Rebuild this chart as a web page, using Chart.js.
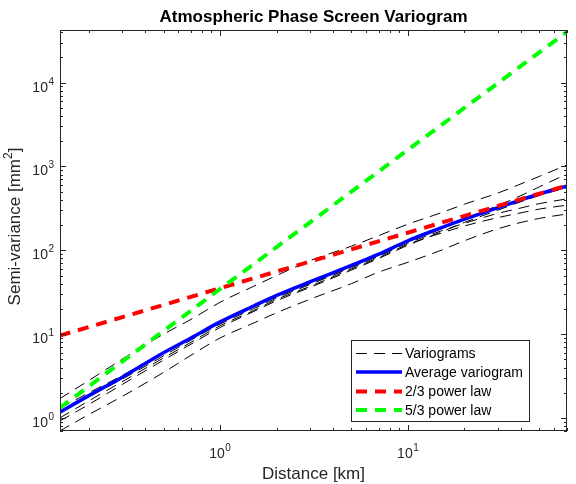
<!DOCTYPE html>
<html lang="en">
<head>
<meta charset="UTF-8">
<title>Atmospheric Phase Screen Variogram</title>
<script src="https://cdn.jsdelivr.net/npm/chart.js"></script>
<style>
  html, body { margin: 0; padding: 0; background: #fff; }
  #wrap { width: 576px; height: 484px; }
</style>
</head>
<body>
<div id="wrap"><canvas id="vario" width="576" height="484"></canvas></div>

<script>
  const distance = [0.14, 0.2, 0.3, 0.5, 0.7, 1, 1.5, 2, 3, 5, 7, 10, 15, 20, 30, 40, 50, 70];

  // individual variograms (mm^2)
  const vario1 = [1.7, 2.8, 5.0, 10, 15, 24, 37, 50, 75, 112, 150, 205, 280, 355, 480, 620, 760, 1040];
  const vario2 = [1.3, 2.0, 3.2, 6.0, 9.0, 13.8, 21, 28, 40, 64, 88, 128, 185, 240, 340, 450, 570, 810];
  const vario3 = [1.15, 1.8, 2.9, 5.5, 8.5, 13.2, 20, 27, 39, 62, 85, 122, 170, 210, 275, 320, 360, 410];
  const vario4 = [1.0, 1.6, 2.7, 5.2, 8.0, 12.6, 19, 26, 37, 60, 82, 118, 160, 195, 245, 280, 310, 345];
  const vario5 = [0.92, 1.45, 2.5, 4.9, 7.6, 12, 18.5, 25, 36, 58, 80, 115, 165, 215, 300, 380, 450, 560];
  const vario6 = [0.7, 1.1, 1.8, 3.5, 5.6, 9, 13.5, 18, 26, 40, 55, 72, 100, 130, 180, 215, 240, 271];

  const avgVariogram = [1.17, 1.85, 3.05, 6.0, 9.0, 14.0, 21.5, 29, 42, 66, 90, 130, 185, 235, 320, 400, 470, 580];

  const lawX = [0.14, 70];
  const law23 = [9.6, 590];
  const law53 = [1.32, 40000];

  const xMajor = [1, 10];
  const yMajor = [1, 10, 100, 1000, 10000];
  const legendLabels = ["Variograms", "Average variogram", "2/3 power law", "5/3 power law"];

  const pts = (xs, ys) => xs.map((v, i) => ({ x: v, y: ys[i] }));

  const axisCol = "#262626";
  const blackDash = [11, 7];
  const fatDash = [11, 8];

  const datasets = [];
  [vario1, vario2, vario3, vario4, vario5, vario6].forEach((v, i) => {
    datasets.push({
      label: i === 0 ? legendLabels[0] : "",
      data: pts(distance, v),
      borderColor: "#000", borderWidth: 1, borderDash: blackDash,
      cubicInterpolationMode: "monotone", order: 3
    });
  });
  datasets.push({ label: legendLabels[1], data: pts(distance, avgVariogram),
    borderColor: "#0000ff", borderWidth: 3.5, cubicInterpolationMode: "monotone", order: 2 });
  datasets.push({ label: legendLabels[2], data: pts(lawX, law23),
    borderColor: "#ff0000", borderWidth: 4, borderDash: fatDash, order: 1 });
  datasets.push({ label: legendLabels[3], data: pts(lawX, law53),
    borderColor: "#00ff00", borderWidth: 4, borderDash: fatDash, order: 0 });

  // "10" with a raised exponent; align: 'center' | 'right'
  function powerLabel(ctx, base, exp, x, y, align) {
    ctx.font = "14px 'Liberation Sans', Arial, sans-serif";
    const wb = ctx.measureText(base).width;
    ctx.font = "10px 'Liberation Sans', Arial, sans-serif";
    const we = ctx.measureText(exp).width;
    const w = wb + we + 0.5;
    let x0 = align === "right" ? x - w : x - w / 2;
    ctx.textAlign = "left";
    ctx.font = "14px 'Liberation Sans', Arial, sans-serif";
    ctx.fillText(base, x0, y);
    ctx.font = "10px 'Liberation Sans', Arial, sans-serif";
    ctx.fillText(exp, x0 + wb + 0.5, y - 7);
  }

  const matlabAxes = {
    id: "matlabAxes",
    afterDraw(chart) {
      const { ctx, chartArea: a, scales: { x, y } } = chart;
      ctx.save();
      ctx.strokeStyle = axisCol;
      ctx.fillStyle = axisCol;
      ctx.lineWidth = 1;

      // ticks on all four sides
      ctx.beginPath();
      for (let d = 0.1; d < 100; d *= 10) {
        for (let m = 1; m <= 9; m++) {
          const v = m * d;
          if (v < x.min || v > x.max) continue;
          const px = Math.round(x.getPixelForValue(v)) + 0.5;
          const len = m === 1 ? 6 : 3;
          ctx.moveTo(px, a.bottom); ctx.lineTo(px, a.bottom - len);
          ctx.moveTo(px, a.top); ctx.lineTo(px, a.top + len);
        }
      }
      for (let d = 0.1; d < 1e5; d *= 10) {
        for (let m = 1; m <= 9; m++) {
          const v = m * d;
          if (v < y.min || v > y.max) continue;
          const py = Math.round(y.getPixelForValue(v)) + 0.5;
          const len = m === 1 ? 6 : 3;
          ctx.moveTo(a.left, py); ctx.lineTo(a.left + len, py);
          ctx.moveTo(a.right, py); ctx.lineTo(a.right - len, py);
        }
      }
      ctx.stroke();

      // box
      ctx.strokeRect(Math.round(a.left) + 0.5, Math.round(a.top) + 0.5,
        Math.round(a.right - a.left) - 1, Math.round(a.bottom - a.top) - 1);

      // tick labels
      ctx.textBaseline = "alphabetic";
      xMajor.forEach(v => {
        powerLabel(ctx, "10", String(Math.round(Math.log10(v))), x.getPixelForValue(v), 458, "center");
      });
      yMajor.forEach(v => {
        powerLabel(ctx, "10", String(Math.round(Math.log10(v))), 54, y.getPixelForValue(v) + 9, "right");
      });

      // title
      ctx.fillStyle = "#000";
      ctx.textAlign = "center";
      ctx.font = "bold 17px 'Liberation Sans', Arial, sans-serif";
      ctx.fillText("Atmospheric Phase Screen Variogram", (a.left + a.right) / 2, 22);

      // axis labels
      ctx.fillStyle = axisCol;
      ctx.font = "17px 'Liberation Sans', Arial, sans-serif";
      ctx.fillText("Distance [km]", (a.left + a.right) / 2, 479);

      ctx.save();
      ctx.translate(20, (a.top + a.bottom) / 2 - 4);
      ctx.rotate(-Math.PI / 2);
      const t1 = "Semi-variance [mm", t2 = "2", t3 = "]";
      ctx.font = "17px 'Liberation Sans', Arial, sans-serif";
      const w1 = ctx.measureText(t1).width, w3 = ctx.measureText(t3).width;
      ctx.font = "12px 'Liberation Sans', Arial, sans-serif";
      const w2 = ctx.measureText(t2).width;
      let sx = -(w1 + w2 + w3) / 2;
      ctx.textAlign = "left";
      ctx.font = "17px 'Liberation Sans', Arial, sans-serif";
      ctx.fillText(t1, sx, 0);
      ctx.font = "12px 'Liberation Sans', Arial, sans-serif";
      ctx.fillText(t2, sx + w1, -8);
      ctx.font = "17px 'Liberation Sans', Arial, sans-serif";
      ctx.fillText(t3, sx + w1 + w2, 0);
      ctx.restore();

      // legend
      const lx = 351, ly = 340, lw = 178, lh = 81;
      ctx.fillStyle = "#fff";
      ctx.fillRect(lx, ly, lw, lh);
      ctx.strokeStyle = axisCol;
      ctx.lineWidth = 1;
      ctx.strokeRect(lx + 0.5, ly + 0.5, lw, lh);
      const sample = [datasets[0], datasets[6], datasets[7], datasets[8]];
      const rows = [353.5, 372, 391.5, 410];
      ctx.font = "14px 'Liberation Sans', Arial, sans-serif";
      ctx.textAlign = "left";
      ctx.textBaseline = "middle";
      sample.forEach((ds, i) => {
        ctx.save();
        ctx.strokeStyle = ds.borderColor;
        ctx.lineWidth = ds.borderWidth;
        ctx.setLineDash(ds.borderDash || []);
        ctx.beginPath();
        ctx.moveTo(356, rows[i]); ctx.lineTo(402, rows[i]);
        ctx.stroke();
        ctx.restore();
        ctx.fillStyle = "#000";
        ctx.fillText(ds.label, 405, rows[i] + 1);
      });

      ctx.restore();
    }
  };

  new Chart("vario", {
    type: "scatter",
    data: { datasets },
    options: {
      responsive: false,
      animation: false,
      showLine: true,
      elements: { point: { radius: 0 }, line: { fill: false } },
      layout: { padding: { top: 30, right: 9, left: 0, bottom: 0 } },
      plugins: { legend: { display: false }, tooltip: { enabled: false }, title: { display: false } },
      scales: {
        x: {
          type: "logarithmic", min: 0.1405, max: 70.3,
          grid: { display: false }, border: { display: false }, ticks: { display: false },
          afterFit(s) { s.height = 53; }
        },
        y: {
          type: "logarithmic", min: 0.706, max: 42400,
          grid: { display: false }, border: { display: false }, ticks: { display: false },
          afterFit(s) { s.width = 60; }
        }
      }
    },
    plugins: [matlabAxes]
  });
</script>
</body>
</html>
